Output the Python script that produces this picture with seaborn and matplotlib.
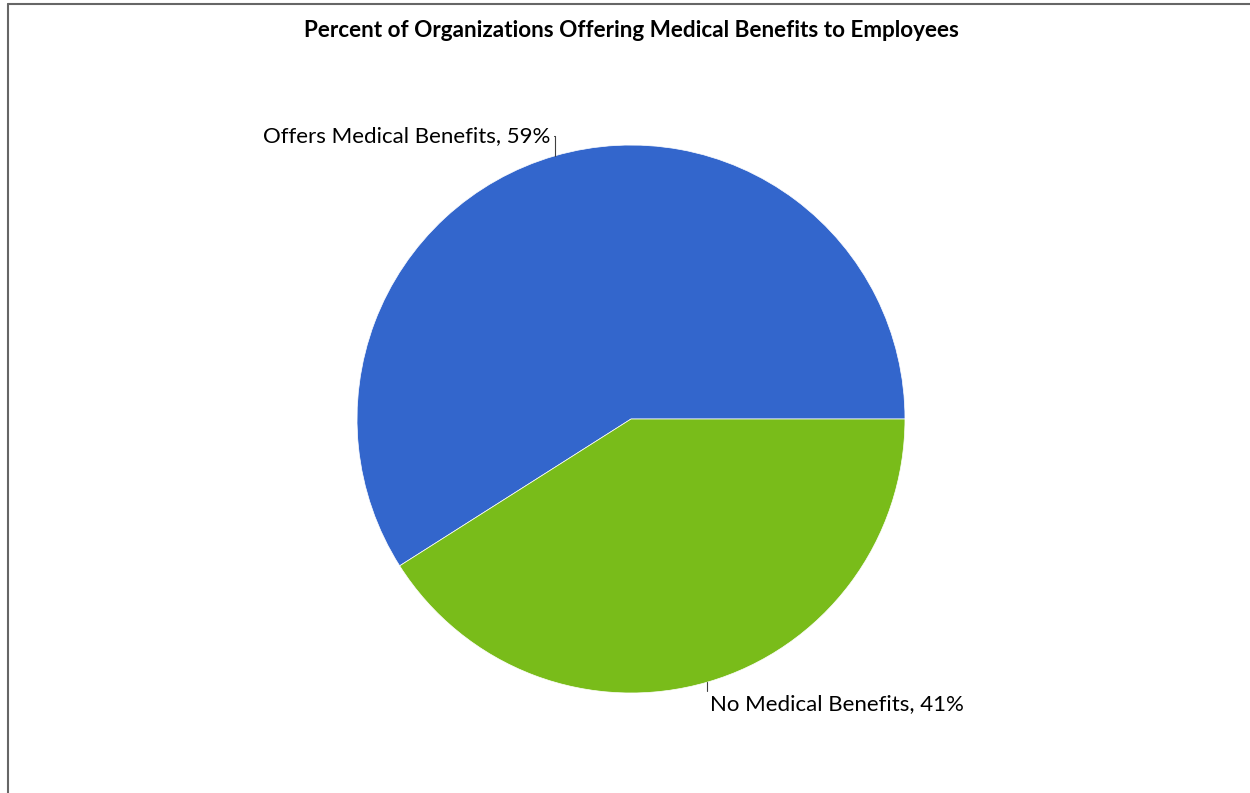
import numpy as np
import seaborn as sns
import matplotlib.pyplot as plt
from matplotlib.lines import Line2D

# Data
categories = ['Offers Medical Benefits', 'No Medical Benefits']
percents = [59, 41]
colors = ['#3366CC', '#79BC1A']
title = 'Percent of Organizations Offering Medical Benefits to Employees'

sns.set_style('white')
plt.rcParams['font.family'] = ['Lato', 'DejaVu Sans']
plt.rcParams['text.color'] = 'black'

fig = plt.figure(figsize=(12.5, 7.93), dpi=100)
ax = fig.add_axes([0.2856, 0.1261, 0.4384, 0.691])

wedges, _ = ax.pie(percents, colors=colors, startangle=0, counterclock=True,
                   radius=1, wedgeprops=dict(linewidth=0.5, edgecolor='white'))
ax.set_xlim(-1, 1)
ax.set_ylim(-1, 1)
ax.axis('off')

# labels with elbow leader lines
for w, cat, p in zip(wedges, categories, percents):
    mid = np.deg2rad((w.theta1 + w.theta2) / 2)
    x, y = np.cos(mid), np.sin(mid)
    txt = f'{cat}, {p}%'
    if y > 0:
        ax.annotate(txt, xy=(x, y), xytext=(-4, 20), textcoords='offset pixels',
                    ha='right', va='center', fontsize=16, color='black',
                    arrowprops=dict(arrowstyle='-', color='#404040', lw=0.8,
                                    shrinkA=0, shrinkB=0, relpos=(1, 0.5),
                                    connectionstyle='angle,angleA=0,angleB=90,rad=0'))
    else:
        ax.annotate(txt, xy=(x, y), xytext=(3, -22), textcoords='offset pixels',
                    ha='left', va='center', fontsize=16, color='black',
                    arrowprops=dict(arrowstyle='-', color='#404040', lw=0.8,
                                    shrinkA=0, shrinkB=0, relpos=(0, 0.5),
                                    connectionstyle='angle,angleA=0,angleB=90,rad=0'))

fig.text(0.505, 0.962, title, ha='center', va='center', fontsize=16.2,
         fontweight='bold', color='black')

# frame lines on left and top
fig.add_artist(Line2D([8 / 1250, 8 / 1250], [0, 1 - 4 / 793], transform=fig.transFigure,
                      color='#666666', lw=1.5))
fig.add_artist(Line2D([8 / 1250, 1], [1 - 4 / 793, 1 - 4 / 793], transform=fig.transFigure,
                      color='#666666', lw=1.5))

fig.savefig('out.png', dpi=100, facecolor='white')
